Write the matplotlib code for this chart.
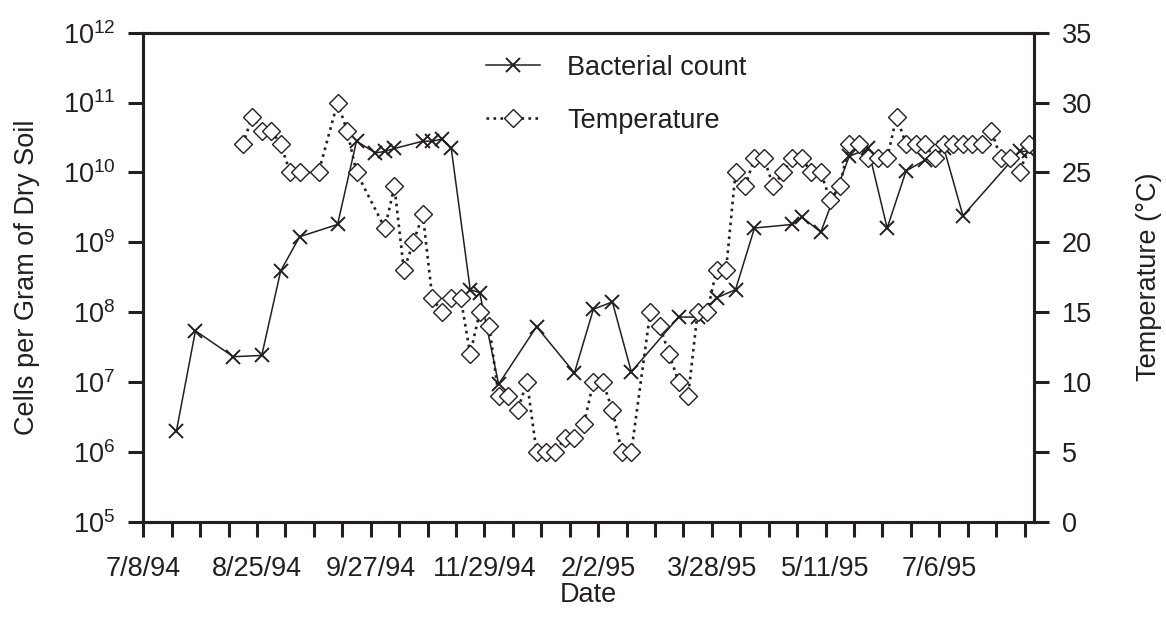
import numpy as np
import matplotlib.pyplot as plt
from matplotlib.transforms import ScaledTranslation

plt.rcParams['font.family'] = ['Liberation Sans', 'DejaVu Sans']
plt.rcParams['font.size'] = 19.5
ink = '#231f20'

# sample positions on the time axis (three units per tick mark)
count_pos = [3.5, 5.5, 9.5, 12.5, 14.5, 16.5, 20.5, 22.5, 24.5, 25.5, 26.5,
             29.5, 30.5, 31.5, 32.5, 34.5, 35.5, 37.5, 41.5, 45.5, 47.5, 49.5,
             51.5, 56.5, 58.5, 60.5, 62.5, 64.5, 68.5, 69.5, 71.5, 74.5, 76.5,
             78.5, 80.5, 82.5, 84.5, 86.5, 92.5, 93.5]
cell_counts = [2.0e6, 5.4e7, 2.3e7, 2.4e7, 3.9e8, 1.2e9, 1.8e9, 2.8e10, 1.9e10,
               2.0e10, 2.2e10, 2.8e10, 2.8e10, 3.0e10, 2.2e10, 2.1e8, 1.9e8,
               9.3e6, 6.2e7, 1.35e7, 1.1e8, 1.4e8, 1.4e7, 8.5e7, 8.5e7, 1.6e8,
               2.1e8, 1.6e9, 1.8e9, 2.3e9, 1.4e9, 1.7e10, 2.2e10, 1.6e9,
               1.05e10, 1.5e10, 2.2e10, 2.4e9, 2.0e10, 2.0e10]

temp_pos = [10.5, 11.5, 12.5, 13.5, 14.5, 15.5, 16.5, 18.5, 20.5, 21.5, 22.5,
            25.5, 26.5, 27.5, 28.5, 29.5, 30.5, 31.5, 32.5, 33.5, 34.5, 35.5,
            36.5, 37.5, 38.5, 39.5, 40.5, 41.5, 42.5, 43.5, 44.5, 45.5, 46.5,
            47.5, 48.5, 49.5, 50.5, 51.5, 53.5, 54.5, 55.5, 56.5, 57.5, 58.5,
            59.5, 60.5, 61.5, 62.5, 63.5, 64.5, 65.5, 66.5, 67.5, 68.5, 69.5,
            70.5, 71.5, 72.5, 73.5, 74.5, 75.5, 76.5, 77.5, 78.5, 79.5, 80.5,
            81.5, 82.5, 83.5, 84.5, 85.5, 86.5, 87.5, 88.5, 89.5, 90.5, 91.5,
            92.5, 93.5]
temps = [27, 29, 28, 28, 27, 25, 25, 25, 30, 28, 25,
         21, 24, 18, 20, 22, 16, 15, 16, 16, 12, 15,
         14, 9, 9, 8, 10, 5, 5, 5, 6, 6, 7,
         10, 10, 8, 5, 5, 15, 14, 12, 10, 9, 15,
         15, 18, 18, 25, 24, 26, 26, 24, 25, 26, 26,
         25, 25, 23, 24, 27, 27, 26, 26, 26, 29, 27,
         27, 27, 26, 27, 27, 27, 27, 27, 28, 26, 26,
         25, 27]

tick_pos = np.arange(0, 94, 3)
date_pos = [0, 12, 24, 36, 48, 60, 72, 84]
date_labels = ['7/8/94', '8/25/94', '9/27/94', '11/29/94', '2/2/95',
               '3/28/95', '5/11/95', '7/6/95']

fig, ax = plt.subplots(figsize=(11.66, 6.29), dpi=100)
fig.subplots_adjust(left=0.1229, right=0.8868, bottom=0.1706, top=0.948)
ax2 = ax.twinx()

h1, = ax.plot(count_pos, cell_counts, color=ink, lw=1.1, marker='x',
              ms=10, mew=1.4, label='Bacterial count')
h2, = ax2.plot(temp_pos, temps, color=ink, lw=1.9, ls=':', marker='D',
               ms=9.2, mfc='white', mec=ink, mew=1.0, label='Temperature')

ax.set_yscale('log')
ax.set_ylim(1e5, 1e12)
ax.set_yticks([10.0 ** k for k in range(5, 13)])
ax.yaxis.set_minor_locator(plt.NullLocator())
ax2.set_ylim(0, 35)
ax2.set_yticks(range(0, 36, 5))
ax.set_xlim(0, 94)

lab = dict(zip(date_pos, date_labels))
ax.set_xticks(tick_pos, labels=[lab.get(int(p), '') for p in tick_pos])
shift = ScaledTranslation(5 / 100, 0, fig.dpi_scale_trans)
for t in ax.get_xticklabels():
    t.set_transform(t.get_transform() + shift)

for a in (ax, ax2):
    for s in a.spines.values():
        s.set_linewidth(2.2)
        s.set_color(ink)
    a.tick_params(direction='out', length=11, width=2.2, color=ink,
                  labelcolor=ink, labelsize=19.5)
ax.tick_params(axis='x', pad=14)
ax.tick_params(axis='y', pad=9)
ax2.tick_params(axis='y', pad=9)

ax.set_xlabel('Date', color=ink, labelpad=0)
ax.set_ylabel('Cells per Gram of Dry Soil', color=ink, labelpad=16)
ax2.set_ylabel('Temperature (\u00b0C)', color=ink, labelpad=32)

ax2.legend([h1, h2], ['Bacterial count', 'Temperature'], frameon=False,
           loc='upper center', bbox_to_anchor=(0.531, 1.005), handlelength=2.0,
           handletextpad=1.0, labelspacing=1.0, fontsize=19.5,
           labelcolor=ink)

fig.savefig('out.png', dpi=100)
